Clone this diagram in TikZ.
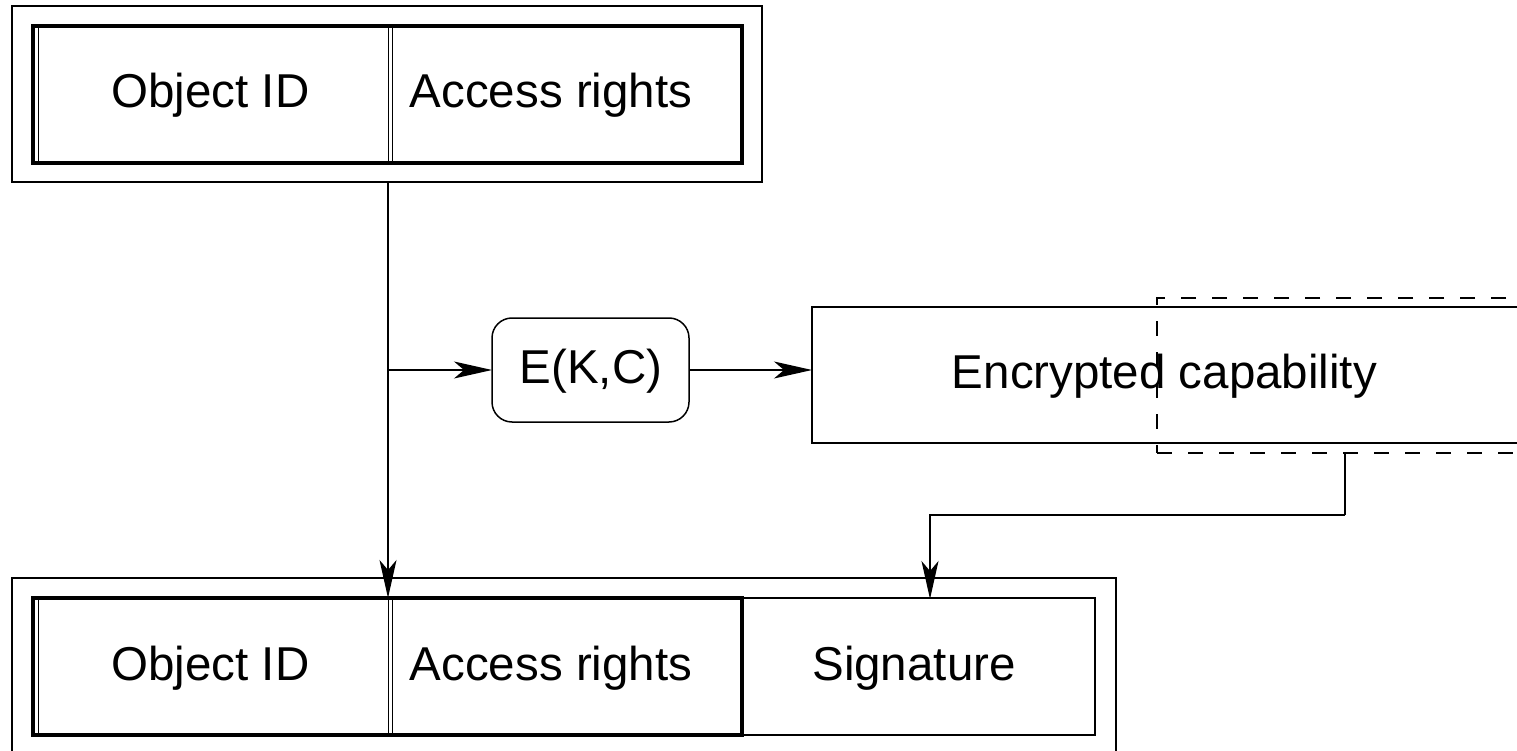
\documentclass[tikz,border=0pt]{standalone}
\usepackage{fontspec}
\setmainfont{Liberation Sans}
\usetikzlibrary{arrows.meta}
\begin{document}
\begin{tikzpicture}[x=1pt,y=-1pt,
  thinln/.style={line width=1.5pt},
  thickln/.style={line width=3.2pt},
  hair/.style={line width=1pt},
  lbl/.style={font=\fontsize{47.5}{57}\selectfont, inner sep=0pt, anchor=base},
  box/.style={draw, rectangle, inner sep=0pt, outer sep=0pt},
  arr/.style={thinln, -{Stealth[length=38pt,width=17pt,inset=10pt]}},
  dashbox/.style={box, thinln, dash pattern=on 15pt off 16pt},
]
\useasboundingbox (0,0) rectangle (1517,751);
% ---- top capability ----
\node[box, thinln, minimum width=750pt, minimum height=176pt] (topout) at (387,94) {};
\node[box, thickln, minimum width=709pt, minimum height=137pt] (topin) at (387.5,94.5) {};
\draw[hair] (38,26) -- (38,163);
\draw[hair] (388,26) -- (388,163);
\draw[hair] (392,26) -- (392,163);
\node[lbl] (topobj) at (210.5,108) {Object ID};
\node[lbl] (topacc) at (551,108) {Access rights};
% ---- encryption ----
\node[box, thinln, rounded corners=20pt, minimum width=197pt, minimum height=104pt] (ekc) at (590.5,370) {};
\node[lbl] (ekctxt) at (591,383) {E(K,C)};
\node[box, thinln, minimum width=706pt, minimum height=136pt] (enc) at (1165,375) {};
\node[lbl] (enctxt) at (1164.5,388.5) {Encrypted capability};
\node[dashbox, minimum width=376pt, minimum height=155pt] (encdash) at (1345,375.5) {};
% ---- bottom capability ----
\node[box, thinln, minimum width=1104pt, minimum height=176pt] (botout) at (564,666) {};
\node[box, thinln, minimum width=353pt, minimum height=137pt] (sig) at (918.5,666.5) {};
\node[box, thickln, minimum width=709pt, minimum height=137pt] (botin) at (387.5,666.5) {};
\draw[hair] (38,598) -- (38,735);
\draw[hair] (388,598) -- (388,735);
\draw[hair] (392,598) -- (392,735);
\node[lbl] (botobj) at (210.5,680) {Object ID};
\node[lbl] (botacc) at (551,680) {Access rights};
\node[lbl] (sigtxt) at (914,680) {Signature};
% ---- connectors ----
\coordinate (vtop) at (388,182);
\coordinate (branch) at (388,370);
\coordinate (vbot) at (388,598);
\coordinate (elbow) at (1345,515);
\coordinate (sigin) at (930,599);
\draw[arr] (vtop) -- (vbot);
\draw[arr] (branch) -- (ekc.west);
\draw[arr] (ekc.east) -- (ekc.east -| enc.west);
\draw[thinln] (encdash.south) -- (elbow);
\draw[arr] (elbow) -| (sigin);
\end{tikzpicture}
\end{document}
